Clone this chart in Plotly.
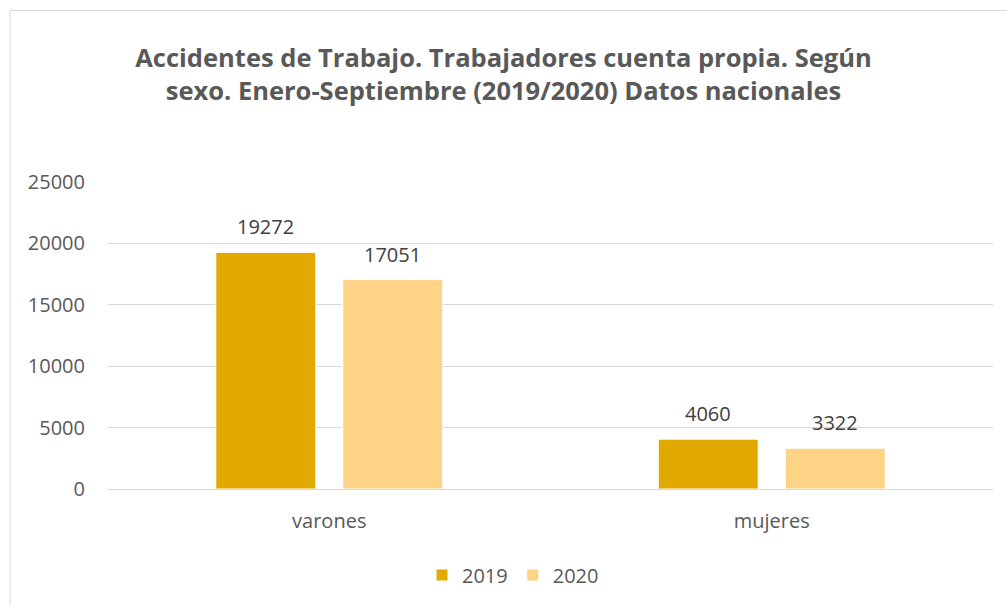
import plotly.graph_objects as go

categories = ["varones", "mujeres"]
years = ["2019", "2020"]
values_2019 = [19272, 4060]
values_2020 = [17051, 3322]
colors = ["#E2A900", "#FFD385"]
y_ticks = [0, 5000, 10000, 15000, 20000, 25000]

BARGAP, BARGROUPGAP = 0.426, 0.213
slot_offset = (1 - BARGAP) / 4  # center of each trace slot relative to category center

fig = go.Figure()
annotations = []
series = [values_2019, values_2020]
for k, (name, vals, col) in enumerate(zip(years, series, colors)):
    fig.add_trace(go.Bar(
        x=categories, y=vals, name=name,
        marker=dict(color=col, line=dict(color="white", width=1)),
    ))
    sign = -1 if k == 0 else 1
    for j, v in enumerate(vals):
        annotations.append(dict(
            x=j + sign * slot_offset, y=v, xref="x", yref="y",
            text=str(v), showarrow=False, yanchor="bottom", yshift=10,
            font=dict(size=20, color="#404040", family="Open Sans"),
        ))

L, R, T, B = 108, 14, 182, 115
W, H = 1007, 605
pw, ph = W - L - R, H - T - B

def px2x(px):
    return (px - L) / pw

def py2y(py):
    return (H - B - py) / ph

fig.update_layout(
    width=W, height=H,
    margin=dict(l=L, r=R, t=T, b=B),
    paper_bgcolor="white", plot_bgcolor="white",
    barmode="group", bargap=BARGAP, bargroupgap=BARGROUPGAP,
    title=dict(
        text="Accidentes de Trabajo. Trabajadores cuenta propia. Según<br>sexo. Enero-Septiembre (2019/2020) Datos nacionales",
        x=0.5, xanchor="center", y=1 - 67 / H, yanchor="middle",
        font=dict(size=25.5, color="#595959", family="Open Sans", weight="bold"),
    ),
    font=dict(family="Open Sans", color="#595959", size=20),
    xaxis=dict(showgrid=False, showline=True, linecolor="#D9D9D9", linewidth=1,
               tickfont=dict(size=20, color="#595959"), ticks="", ticklen=0,
               ticklabelstandoff=14),
    yaxis=dict(range=[0, 25000], tickvals=y_ticks, ticktext=[str(v) for v in y_ticks],
               showgrid=True, gridcolor="#D9D9D9", gridwidth=1, zeroline=False,
               tickfont=dict(size=20, color="#595959"), ticks="", ticklabelstandoff=22),
    legend=dict(orientation="h", x=px2x(513), xanchor="center", y=py2y(575), yanchor="middle",
                font=dict(size=20, color="#595959"), itemwidth=30, traceorder="normal"),
    annotations=annotations,
    shapes=[dict(type="rect", xref="paper", yref="paper",
                 x0=px2x(10), x1=px2x(1040), y0=py2y(640), y1=py2y(10),
                 line=dict(color="#D9D9D9", width=1), layer="below")],
)

fig.write_html("out.html", config={"displayModeBar": False},
               post_script="document.body.style.margin='0';")
